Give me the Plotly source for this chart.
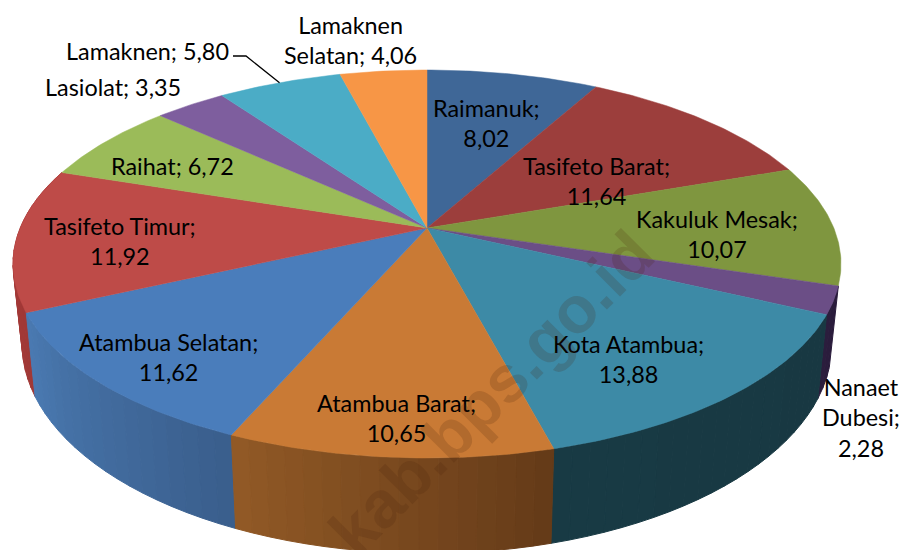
import math
import plotly.graph_objects as go

categories = ["Raimanuk", "Tasifeto Barat", "Kakuluk Mesak", "Nanaet Dubesi", "Kota Atambua",
              "Atambua Barat", "Atambua Selatan", "Tasifeto Timur", "Raihat", "Lasiolat",
              "Lamaknen", "Lamaknen Selatan"]
values = [8.02, 11.64, 10.07, 2.28, 13.88, 10.65, 11.62, 11.92, 6.72, 3.35, 5.80, 4.06]
value_labels = ["8,02", "11,64", "10,07", "2,28", "13,88", "10,65", "11,62", "11,92", "6,72", "3,35", "5,80", "4,06"]
top_colors = ["#3F6797", "#9C3E3C", "#7F963F", "#6B4E86", "#3D8AA6", "#C97A35",
              "#4A7DBB", "#BE4B48", "#9BBB59", "#7E5E9E", "#4BACC6", "#F79646"]
side_rgb = [None, None, None, ((44, 30, 62), (40, 26, 58)), ((24, 58, 68), (24, 56, 66)),
            ((146, 90, 38), (100, 58, 24)), ((74, 122, 178), (58, 94, 140)),
            ((176, 62, 60), (160, 56, 54)), None, None, None, None]
label_text = ["Raimanuk;<br>8,02", "Tasifeto Barat;<br>11,64", "Kakuluk Mesak;<br>10,07",
              "Nanaet<br>Dubesi;<br>2,28", "Kota Atambua;<br>13,88", "Atambua Barat;<br>10,65",
              "Atambua Selatan;<br>11,62", "Tasifeto Timur;<br>11,92", "Raihat; 6,72",
              "Lasiolat; 3,35", "Lamaknen; 5,80", "Lamaknen<br>Selatan; 4,06"]
label_pos = [(486, 123), (596, 181), (717, 234), (861, 417), (628, 359), (396, 418),
             (168, 357), (120, 241), (172, 166), (113, 87), (147, 51), (350, 40)]

# perspective projection of the pie plane
CX, CY, A, B, P = 427, 228, 406.8, 187.3, 0.1856


def top(t):
    u, v = math.sin(t), math.cos(t)
    w = 1 + P * v
    return CX + A * u / w, CY - B * v / w


def bottom(t):
    x, y = top(t)
    return CX + 0.978 * (x - CX), 305 + 1.08 * (y - CY)


total = sum(values)
edges = [0.0]
for val in values:
    edges.append(edges[-1] + val / total * 2 * math.pi)

fig = go.Figure()

# side wall strips, back to front; rgb pairs run from the screen-left end to the screen-right end
strips = []
for i, rgb in enumerate(side_rgb):
    if rgb is None:
        continue
    n = max(2, int(values[i] * 1.6))
    for k in range(n):
        t0 = edges[i] + (edges[i + 1] - edges[i]) * k / n
        t1 = edges[i] + (edges[i + 1] - edges[i]) * (k + 1) / n
        f = (k + 0.5) / n
        if top(t0)[0] > top(t1)[0]:
            c = [round(rgb[1][j] + (rgb[0][j] - rgb[1][j]) * f) for j in range(3)]
        else:
            c = [round(rgb[0][j] + (rgb[1][j] - rgb[0][j]) * f) for j in range(3)]
        strips.append((math.cos((t0 + t1) / 2), t0, t1, "rgb(%d,%d,%d)" % tuple(c)))
strips.sort(key=lambda s: -s[0])
for _, t0, t1, col in strips:
    ts = [t0 + (t1 - t0) * j / 6 for j in range(7)]
    up = [top(t) for t in ts]
    lo = [bottom(t) for t in reversed(ts)]
    pts = up + lo + up[:1]
    fig.add_trace(go.Scatter(x=[p[0] for p in pts], y=[p[1] for p in pts], mode="lines",
                             fill="toself", fillcolor=col, line=dict(color=col, width=1),
                             hoverinfo="skip", showlegend=False))

# top faces
for i, name in enumerate(categories):
    n = max(8, int(values[i] * 5))
    pts = [(CX, CY)] + [top(edges[i] + (edges[i + 1] - edges[i]) * j / n) for j in range(n + 1)] + [(CX, CY)]
    fig.add_trace(go.Scatter(x=[p[0] for p in pts], y=[p[1] for p in pts], mode="lines",
                             fill="toself", fillcolor=top_colors[i],
                             line=dict(color=top_colors[i], width=0.5),
                             name=name, text=name + "; " + value_labels[i], hoverinfo="text",
                             showlegend=False))

# leader line of the Lamaknen label, ending at the middle of its slice
mid = (edges[10] + edges[11]) / 2
ex, ey = top(mid)
fig.add_trace(go.Scatter(x=[233, 246, ex], y=[56, 56, ey], mode="lines",
                         line=dict(color="#000000", width=1.3), hoverinfo="skip", showlegend=False))

annotations = [dict(x=p[0], y=p[1], text=t, showarrow=False, xanchor="center", yanchor="middle",
                    font=dict(family="Lato", size=23.4, color="#000000"), align="center")
               for t, p in zip(label_text, label_pos)]
annotations.append(dict(x=491, y=393, text="<b>kab.bps.go.id</b>", showarrow=False, textangle=-45,
                        xanchor="center", yanchor="middle",
                        font=dict(family="Liberation Sans", size=66, color="rgba(70,35,10,0.18)")))

fig.update_layout(
    width=900, height=550, margin=dict(l=0, r=0, t=0, b=0),
    paper_bgcolor="#ffffff", plot_bgcolor="#ffffff", showlegend=False,
    xaxis=dict(range=[0, 900], visible=False, fixedrange=True),
    yaxis=dict(range=[550, 0], visible=False, fixedrange=True),
    annotations=annotations,
)
fig.write_html("out.html", config={"displayModeBar": False},
               post_script="document.body.style.margin='0';document.body.style.overflow='hidden';")
